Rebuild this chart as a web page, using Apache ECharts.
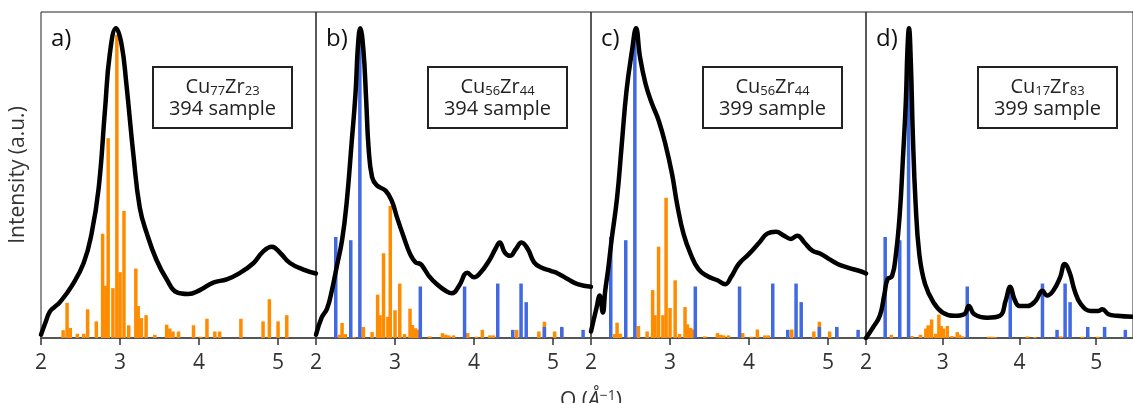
<!DOCTYPE html>
<html>
<head>
<meta charset="utf-8">
<script src="https://cdn.jsdelivr.net/npm/echarts@6/dist/echarts.min.js"></script>
<style>
  html, body { margin: 0; padding: 0; background: #fff; }
  #chart { width: 1133px; height: 403px; }
</style>
</head>
<body>
<div id="chart"></div>
<script>
// ---- data ----------------------------------------------------------------
const xTicks = [2, 3, 4, 5];
const panelLabels = ['a)', 'b)', 'c)', 'd)'];
const cuIndex = ['77', '56', '56', '17'];
const zrIndex = ['23', '44', '44', '83'];
const sampleNames = ['394 sample', '394 sample', '399 sample', '399 sample'];
const xTitle = 'Q';
const yTitle = 'Intensity (a.u.)';

// measured intensity profiles, [Q, I]
const curveA = [[2.0,0.01],[2.06,0.05],[2.11,0.08],[2.17,0.095],[2.24,0.11],[2.39,0.16],[2.54,0.23],[2.64,0.32],[2.73,0.46],
  [2.81,0.70],[2.87,0.87],[2.95,0.95],[3.02,0.90],[3.08,0.78],[3.17,0.56],[3.25,0.40],[3.34,0.32],[3.46,0.24],
  [3.59,0.18],[3.72,0.14],[3.86,0.135],[4.01,0.147],[4.18,0.17],[4.35,0.18],[4.52,0.20],[4.69,0.23],[4.81,0.265],
  [4.92,0.28],[5.03,0.26],[5.15,0.23],[5.32,0.21],[5.48,0.198]];
const curveB = [[2.0,0.01],[2.07,0.062],[2.14,0.09],[2.20,0.145],[2.26,0.216],[2.33,0.30],[2.39,0.42],[2.45,0.596],
  [2.50,0.75],[2.53,0.893],[2.56,0.95],[2.60,0.883],[2.635,0.73],[2.665,0.585],[2.71,0.493],[2.77,0.468],[2.88,0.452],
  [2.96,0.42],[3.025,0.37],[3.11,0.31],[3.19,0.258],[3.26,0.232],[3.32,0.227],[3.36,0.216],[3.43,0.19],[3.53,0.165],
  [3.64,0.145],[3.72,0.137],[3.81,0.16],[3.915,0.20],[4.00,0.186],[4.08,0.20],[4.19,0.237],[4.27,0.273],[4.325,0.293],
  [4.39,0.262],[4.455,0.252],[4.53,0.273],[4.60,0.293],[4.68,0.273],[4.76,0.232],[4.85,0.216],[4.97,0.206],
  [5.06,0.198],[5.19,0.18],[5.31,0.165],[5.48,0.157]];
const curveC = [[2.0,0.02],[2.07,0.093],[2.11,0.13],[2.15,0.078],[2.18,0.145],[2.22,0.216],[2.26,0.30],[2.33,0.43],
  [2.39,0.596],[2.45,0.76],[2.52,0.883],[2.57,0.95],[2.62,0.862],[2.69,0.78],[2.77,0.72],[2.855,0.668],[2.94,0.596],
  [3.025,0.504],[3.09,0.41],[3.17,0.32],[3.26,0.258],[3.36,0.211],[3.47,0.19],[3.60,0.177],[3.70,0.165],[3.77,0.186],
  [3.87,0.227],[4.00,0.258],[4.13,0.293],[4.23,0.32],[4.34,0.326],[4.44,0.314],[4.53,0.304],[4.61,0.314],[4.70,0.293],
  [4.80,0.268],[4.91,0.258],[5.015,0.242],[5.12,0.227],[5.25,0.216],[5.42,0.204],[5.48,0.198]];
const curveD = [[2.0,0.0],[2.09,0.032],[2.18,0.068],[2.24,0.134],[2.28,0.18],[2.34,0.19],[2.39,0.257],[2.44,0.38],
  [2.48,0.545],[2.52,0.73],[2.54,0.883],[2.56,0.95],[2.585,0.84],[2.61,0.627],[2.645,0.42],[2.695,0.257],[2.77,0.165],
  [2.88,0.109],[3.00,0.078],[3.15,0.068],[3.28,0.073],[3.34,0.098],[3.41,0.073],[3.58,0.062],[3.745,0.068],[3.82,0.114],
  [3.88,0.157],[3.935,0.119],[4.00,0.098],[4.105,0.098],[4.21,0.114],[4.30,0.145],[4.36,0.13],[4.44,0.145],[4.53,0.186],
  [4.59,0.227],[4.655,0.20],[4.72,0.145],[4.80,0.104],[4.93,0.083],[5.03,0.083],[5.08,0.088],[5.16,0.073],[5.27,0.068],
  [5.48,0.065]];

// reference reflections, [Q, relative intensity]
const orangeA = [[2.28,0.024],[2.33,0.108],[2.37,0.031],[2.46,0.013],[2.54,0.013],[2.59,0.088],[2.70,0.051],
  [2.78,0.32],[2.82,0.16],[2.85,0.613],[2.91,0.153],[2.96,0.93],[3.00,0.202],[3.05,0.39],[3.11,0.039],[3.20,0.213],
  [3.23,0.098],[3.27,0.061],[3.33,0.07],[3.44,0.01],[3.59,0.041],[3.63,0.029],[3.67,0.02],[3.74,0.02],[3.93,0.039],
  [4.02,0.004],[4.10,0.059],[4.20,0.02],[4.26,0.02],[4.53,0.059],[4.81,0.051],[4.89,0.119],[5.00,0.051],[5.11,0.07]];
const orangeB = [[2.30,0.01],[2.33,0.046],[2.37,0.012],[2.48,0.003],[2.60,0.034],[2.71,0.018],[2.78,0.133],[2.81,0.07],
  [2.855,0.26],[2.91,0.065],[2.94,0.405],[3.00,0.085],[3.06,0.167],[3.12,0.012],[3.19,0.09],[3.22,0.04],[3.26,0.03],
  [3.29,0.025],[3.44,0.005],[3.60,0.015],[3.64,0.01],[3.68,0.008],[3.74,0.008],[3.92,0.015],[4.03,0.004],[4.105,0.025],
  [4.20,0.008],[4.245,0.008],[4.54,0.025],[4.82,0.02],[4.89,0.05],[5.02,0.02],[5.11,0.03]];
const orangeC = [[2.30,0.012],[2.33,0.047],[2.37,0.013],[2.48,0.003],[2.60,0.037],[2.71,0.02],[2.78,0.147],[2.81,0.07],
  [2.855,0.28],[2.91,0.07],[2.95,0.43],[3.00,0.092],[3.065,0.177],[3.12,0.012],[3.19,0.095],[3.22,0.042],[3.26,0.031],
  [3.29,0.026],[3.44,0.005],[3.60,0.015],[3.64,0.01],[3.68,0.008],[3.74,0.008],[3.92,0.015],[4.03,0.004],[4.105,0.026],
  [4.20,0.008],[4.245,0.008],[4.54,0.026],[4.82,0.02],[4.89,0.05],[5.02,0.02],[5.11,0.03]];
const orangeD = [[2.33,0.01],[2.60,0.006],[2.71,0.01],[2.78,0.029],[2.81,0.039],[2.855,0.057],[2.91,0.013],
  [2.95,0.072],[2.98,0.037],[3.01,0.029],[3.06,0.037],[3.12,0.006],[3.19,0.018],[3.22,0.01],[3.26,0.005],[3.60,0.004],
  [3.64,0.004],[3.68,0.003],[4.105,0.005],[4.20,0.003],[4.54,0.005],[4.82,0.004],[4.89,0.008],[5.02,0.004],[5.11,0.005]];
const blueLines = [[2.25,0.31],[2.44,0.30],[2.555,0.93],[3.32,0.158],[3.88,0.158],[4.30,0.167],[4.49,0.025],
  [4.595,0.167],[4.66,0.11],[4.89,0.034],[5.11,0.034],[5.38,0.025]];

const curves = [curveA, curveB, curveC, curveD];
const orangeSets = [orangeA, orangeB, orangeC, orangeD];
const blueSets = [null, blueLines, blueLines, blueLines];

// ---- layout ----------------------------------------------------------------
const FONT = 'Open Sans';
const panelLeft = [41, 316, 591, 866];
const panelWidth = 275;
const plotTop = 12;
const plotHeight = 326;
const xMin = 2, xMax = 5.48;

const grids = [], xAxes = [], yAxes = [], series = [], graphics = [];

panelLeft.forEach((left, i) => {
  grids.push({
    left: left, top: plotTop, width: panelWidth, height: plotHeight,
    show: true, borderColor: '#222', borderWidth: 1, backgroundColor: 'transparent'
  });
  xAxes.push({
    gridIndex: i, type: 'value', min: xMin, max: xMax, position: 'bottom',
    axisLine: { show: true, onZero: false, lineStyle: { color: '#555', width: 2 } },
    axisTick: { show: true, length: 7, customValues: xTicks, lineStyle: { color: '#333', width: 1.5 } },
    axisLabel: { customValues: xTicks, fontSize: 21, fontFamily: FONT, color: '#333', margin: 15 },
    splitLine: { show: false }
  });
  yAxes.push({ gridIndex: i, type: 'value', min: 0, max: 1, show: false });

  series.push({
    type: 'bar', xAxisIndex: i, yAxisIndex: i, data: orangeSets[i],
    barWidth: 3.5, barGap: '-100%', itemStyle: { color: '#FF8C00' },
    silent: true, z: 2
  });
  if (blueSets[i]) {
    series.push({
      type: 'bar', xAxisIndex: i, yAxisIndex: i, data: blueSets[i],
      barWidth: 3.5, barGap: '-100%', itemStyle: { color: '#4169E1' },
      silent: true, z: 2
    });
  }
  series.push({
    type: 'line', xAxisIndex: i, yAxisIndex: i, data: curves[i],
    showSymbol: false, smooth: 0.45,
    lineStyle: { color: '#000', width: 4.5, join: 'round', cap: 'round' },
    silent: true, z: 4
  });

  // panel letter
  graphics.push({
    type: 'text', x: left + 10, y: 39, z: 10,
    style: { text: panelLabels[i], font: '24px "' + FONT + '"', fill: '#111', verticalAlign: 'middle' }
  });
  // composition box
  const bx = left + 112, by = 67, bw = 139, bh = 61;
  graphics.push({
    type: 'rect', z: 10,
    shape: { x: bx, y: by, width: bw, height: bh },
    style: { fill: '#fff', stroke: '#222', lineWidth: 2 }
  });
  graphics.push({
    type: 'text', x: bx + bw / 2, y: 87, z: 11,
    style: {
      text: 'Cu{s|' + cuIndex[i] + '}Zr{s|' + zrIndex[i] + '}',
      fontSize: 20, fontFamily: FONT, fill: '#222', align: 'center', verticalAlign: 'middle',
      lineHeight: 22,
      rich: { s: { fontSize: 13, fontFamily: FONT, fill: '#222', verticalAlign: 'bottom', lineHeight: 13 } }
    }
  });
  graphics.push({
    type: 'text', x: bx + bw / 2, y: 109, z: 11,
    style: {
      text: sampleNames[i], fontSize: 20, fontFamily: FONT, fill: '#222',
      align: 'center', verticalAlign: 'middle'
    }
  });
});

// axis titles
graphics.push({
  type: 'text', x: 18, y: plotTop + plotHeight / 2, rotation: Math.PI / 2, z: 10,
  style: { text: yTitle, fontSize: 21, fontFamily: FONT, fill: '#333', align: 'center', verticalAlign: 'middle' }
});
graphics.push({
  type: 'text', x: 591, y: 401, z: 10,
  style: {
    text: xTitle + ' ({i|Å}{sup|−1})', fontSize: 21, fontFamily: FONT, fill: '#333',
    align: 'center', verticalAlign: 'middle', lineHeight: 24,
    rich: {
      i: { fontSize: 21, fontFamily: FONT, fontStyle: 'italic', fill: '#333' },
      sup: { fontSize: 14, fontFamily: FONT, fill: '#333', verticalAlign: 'top', lineHeight: 14 }
    }
  }
});

const chart = echarts.init(document.getElementById('chart'), null, { renderer: 'canvas' });
chart.setOption({
  animation: false,
  backgroundColor: '#fff',
  grid: grids,
  xAxis: xAxes,
  yAxis: yAxes,
  series: series,
  graphic: graphics
});
</script>
</body>
</html>
